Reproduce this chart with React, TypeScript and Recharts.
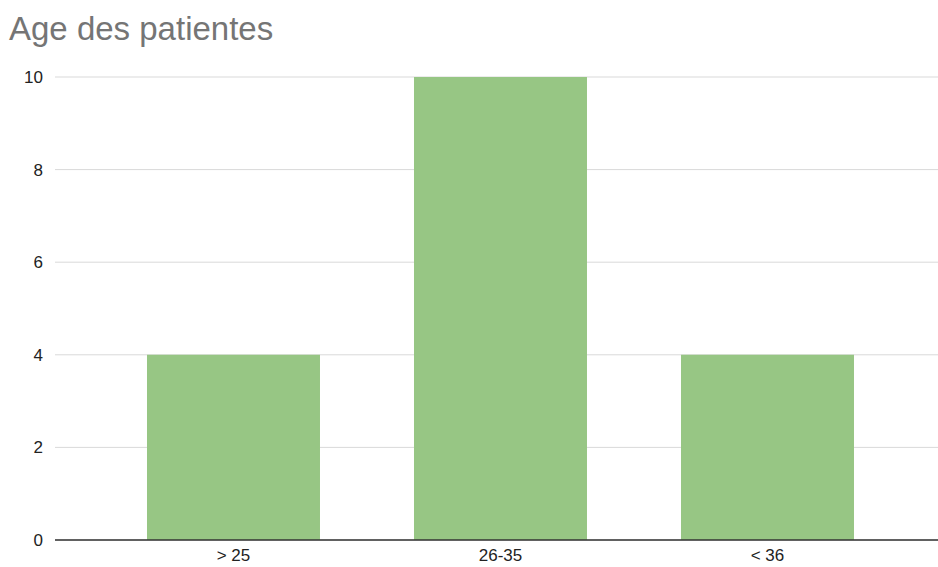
import { BarChart, Bar, XAxis, YAxis, CartesianGrid } from 'recharts'

const categories = ['> 25', '26-35', '< 36']
const patientCounts = [4, 10, 4]
const yTicks = [0, 2, 4, 6, 8, 10]

const data = categories.map((name, i) => ({ name, count: patientCounts[i] }))

export default function App() {
  return (
    <div
      style={{
        position: 'absolute',
        left: 0,
        top: 0,
        width: 938,
        height: 567,
        background: '#fff',
        fontFamily: '"Liberation Sans", Arial, sans-serif',
      }}
    >
      <div
        style={{
          position: 'absolute',
          left: 9,
          top: 12,
          fontSize: 33,
          color: '#757575',
          lineHeight: '33px',
          whiteSpace: 'nowrap',
        }}
      >
        Age des patientes
      </div>
      <BarChart
        width={938}
        height={567}
        data={data}
        margin={{ top: 77, right: 0, bottom: 0, left: 4 }}
        barCategoryGap="17.6%"
      >
        <CartesianGrid horizontal vertical={false} stroke="#d9d9d9" />
        <XAxis
          dataKey="name"
          height={27}
          padding={{ left: 45, right: 37 }}
          tickLine={false}
          tickSize={0}
          tickMargin={9}
          axisLine={{ stroke: '#333', strokeWidth: 1.5 }}
          tick={{ fontSize: 17, fill: '#222' }}
        />
        <YAxis
          width={51}
          domain={[0, 10]}
          ticks={yTicks}
          tickLine={false}
          tickSize={0}
          tickMargin={12}
          axisLine={false}
          tick={{ fontSize: 17, fill: '#222' }}
        />
        <Bar dataKey="count" fill="#97c684" isAnimationActive={false} />
      </BarChart>
    </div>
  )
}
